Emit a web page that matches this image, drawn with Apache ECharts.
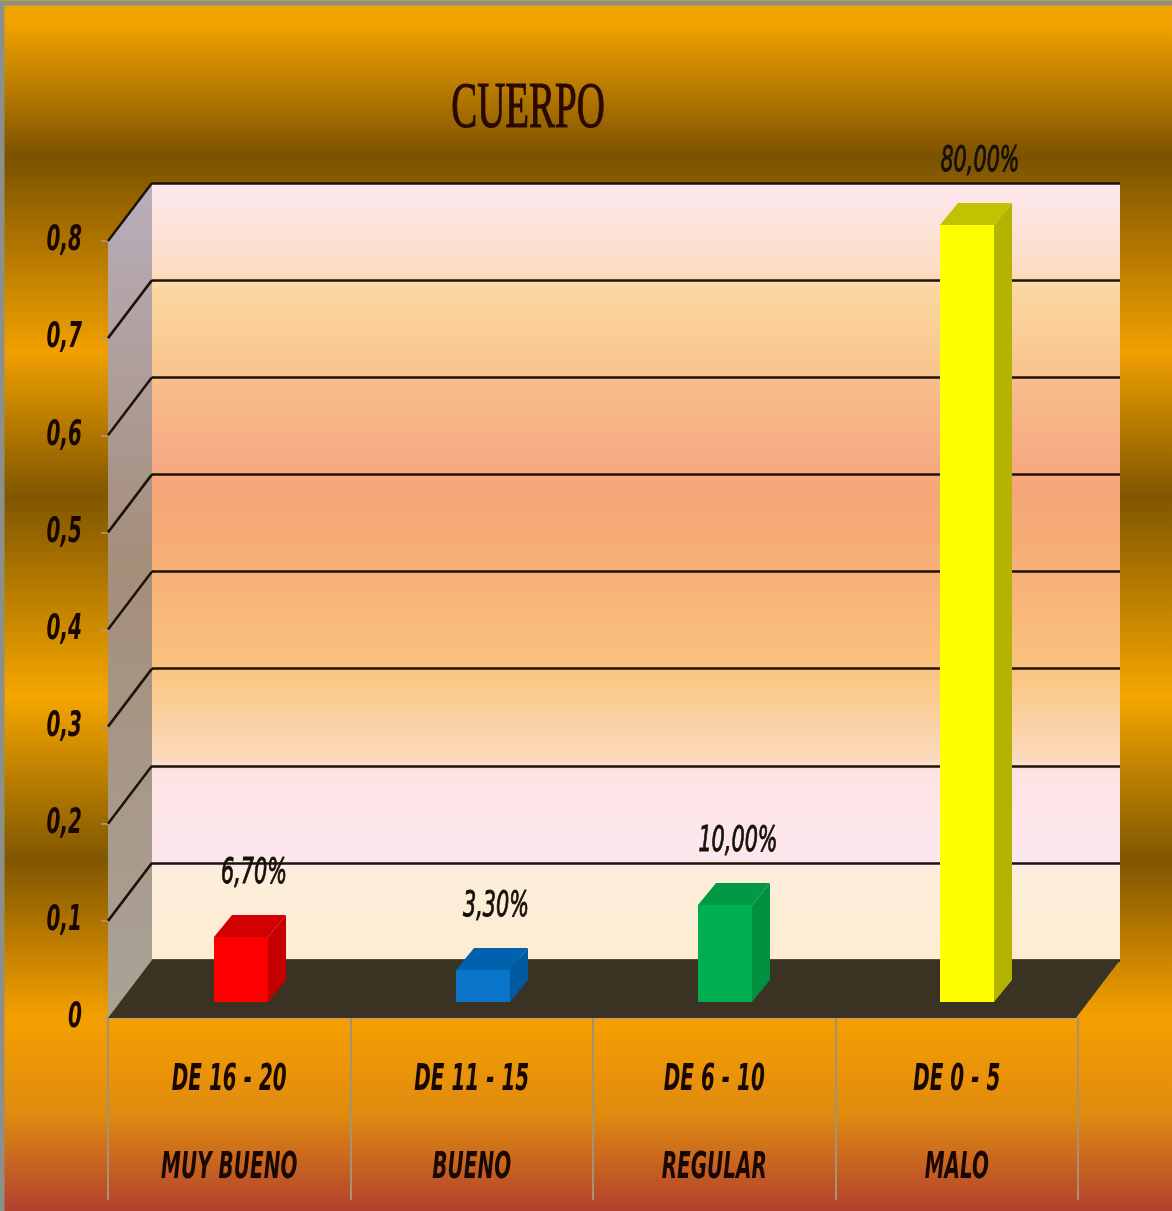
<!DOCTYPE html>
<html>
<head>
<meta charset="utf-8">
<script src="https://cdn.jsdelivr.net/npm/echarts@6/dist/echarts.min.js"></script>
<style>
html, body { margin: 0; padding: 0; }
#chart { width: 1172px; height: 1211px; }
</style>
</head>
<body>
<div id="chart"></div>
<script>
// data
const categories = ['DE 16 - 20', 'DE 11 - 15', 'DE 6 - 10', 'DE 0 - 5'];
const ratings = ['MUY BUENO', 'BUENO', 'REGULAR', 'MALO'];
const values = [0.067, 0.033, 0.1, 0.8];
const yTicks = [0, 0.1, 0.2, 0.3, 0.4, 0.5, 0.6, 0.7, 0.8];

const barColors = [
	{ front: '#ff0000', side: '#c40000', top: '#d20000' },
	{ front: '#0a74c8', side: '#005aa0', top: '#0062ac' },
	{ front: '#00b050', side: '#00903e', top: '#009a44' },
	{ front: '#ffff00', side: '#b4b400', top: '#c2c200' }
];

// fake 3D box (pixels)
const back = { left: 152, top: 183, right: 1120, bottom: 960 };
const depth = { dx: 44, dy: 58 }; // back wall -> front edge
const barShift = { dx: 32, dy: 42 }; // back wall -> bar front face
const barW = 54;
const barD = { dx: 18, dy: 22 };

// Calibri-like look: tall condensed text squeezed horizontally
const cond = '"DejaVu Sans Condensed", "DejaVu Sans", sans-serif';
const ink = '#1a0800';

function fmtTick(v) {
	return v === 0 ? '0' : v.toFixed(1).replace('.', ',');
}
function fmtPct(v) {
	return (v * 100).toFixed(2).replace('.', ',') + '%';
}

function renderBar(params, api) {
	const i = api.value(0);
	const v = api.value(1);
	const top = api.coord([i, v]);
	const base = api.coord([i, 0]);
	const x0 = top[0] - barShift.dx - barW / 2;
	const x1 = x0 + barW;
	const yt = top[1] + barShift.dy;
	const yb = base[1] + barShift.dy;
	const c = barColors[i];
	return {
		type: 'group',
		children: [
			{
				type: 'polygon',
				shape: { points: [[x1, yt], [x1 + barD.dx, yt - barD.dy], [x1 + barD.dx, yb - barD.dy], [x1, yb]] },
				style: { fill: c.side }
			},
			{
				type: 'polygon',
				shape: { points: [[x0, yt], [x0 + barD.dx, yt - barD.dy], [x1 + barD.dx, yt - barD.dy], [x1, yt]] },
				style: { fill: c.top }
			},
			{
				type: 'rect',
				shape: { x: x0, y: yt, width: barW, height: yb - yt },
				style: { fill: c.front }
			},
			{
				type: 'text',
				x: (x0 + x1) / 2 + 13,
				y: yt - barD.dy - 41,
				scaleX: 0.66,
				style: {
					text: fmtPct(v),
					font: 'italic 35px ' + cond,
					fill: '#161008',
					stroke: '#161008',
					lineWidth: 0.9,
					align: 'center',
					verticalAlign: 'middle'
				}
			}
		]
	};
}

function renderSideLine(params, api) {
	const p = api.coord([0, api.value(1)]);
	const x = params.coordSys.x;
	return {
		type: 'line',
		shape: { x1: x, y1: p[1], x2: x - depth.dx, y2: p[1] + depth.dy },
		style: { stroke: '#1c1208', lineWidth: 2.5 }
	};
}

function renderCatLabel(params, api) {
	const i = api.value(0);
	const p = api.coord([i, 0]);
	const txt = (s, dy) => ({
		type: 'text',
		x: p[0],
		y: p[1] + dy,
		scaleX: 0.6,
		style: {
			text: s,
			font: 'italic bold 37px ' + cond,
			fill: ink,
			align: 'center',
			verticalAlign: 'middle'
		}
	});
	return { type: 'group', children: [txt(categories[i], 62), txt(ratings[i], 150)] };
}

function renderTickLabel(params, api) {
	const v = api.value(1);
	const p = api.coord([0, v]);
	return {
		type: 'text',
		x: params.coordSys.x - 26,
		y: p[1],
		scaleX: 0.62,
		style: {
			text: fmtTick(v),
			font: 'italic bold 36px ' + cond,
			fill: ink,
			align: 'right',
			verticalAlign: 'middle'
		}
	};
}

const chart = echarts.init(document.getElementById('chart'));

chart.setOption({
	animation: false,
	backgroundColor: {
		type: 'linear', x: 0, y: 0, x2: 0, y2: 1,
		colorStops: [
			{ offset: 0, color: '#f4a400' },
			{ offset: 0.02, color: '#f2a200' },
			{ offset: 0.13, color: '#7b5200' },
			{ offset: 0.29, color: '#f0a000' },
			{ offset: 0.41, color: '#805600' },
			{ offset: 0.575, color: '#f5a600' },
			{ offset: 0.71, color: '#805600' },
			{ offset: 0.84, color: '#f5a000' },
			{ offset: 0.92, color: '#e08a10' },
			{ offset: 1, color: '#b04030' }
		]
	},
	graphic: [
		{
			type: 'polygon',
			z: 1,
			shape: {
				points: [
					[back.left - depth.dx, back.bottom + depth.dy],
					[back.left - depth.dx, back.top + depth.dy],
					[back.left, back.top],
					[back.left, back.bottom]
				]
			},
			style: {
				fill: {
					type: 'linear', x: 0, y: 0, x2: 0, y2: 1,
					colorStops: [
						{ offset: 0, color: '#b8aebc' },
						{ offset: 0.45, color: '#a58e7a' },
						{ offset: 1, color: '#aaa298' }
					]
				}
			}
		},
		{
			type: 'polygon',
			z: 1,
			shape: {
				points: [
					[back.left - depth.dx, back.bottom + depth.dy],
					[back.left, back.bottom],
					[back.right, back.bottom],
					[back.right - depth.dx, back.bottom + depth.dy]
				]
			},
			style: { fill: '#3a3222' }
		},
		{
			type: 'text',
			z: 5,
			x: 528,
			y: 110,
			scaleX: 0.59,
			style: {
				text: 'CUERPO',
				font: '66px "Liberation Serif", "DejaVu Serif", serif',
				fill: '#2a0a00',
				stroke: '#2a0a00',
				lineWidth: 1.2,
				textAlign: 'center',
				textVerticalAlign: 'middle'
			}
		},
		{
			type: 'polyline',
			z: 10,
			shape: { points: [[2, 1211], [2, 3], [1172, 3]] },
			style: { stroke: '#8c9088', lineWidth: 5 }
		}
	],
	grid: [
		{
			left: back.left, top: back.top,
			width: back.right - back.left, height: back.bottom - back.top,
			show: true,
			borderWidth: 0,
			backgroundColor: {
				type: 'linear', x: 0, y: 0, x2: 0, y2: 1,
				colorStops: [
					{ offset: 0, color: '#fde9f0' },
					{ offset: 0.11, color: '#fcdcc4' },
					{ offset: 0.14, color: '#fbd6a0' },
					{ offset: 0.24, color: '#f9c58e' },
					{ offset: 0.26, color: '#f8bc8c' },
					{ offset: 0.37, color: '#f6a880' },
					{ offset: 0.40, color: '#f6a676' },
					{ offset: 0.50, color: '#f7b078' },
					{ offset: 0.62, color: '#fac27c' },
					{ offset: 0.64, color: '#fac886' },
					{ offset: 0.74, color: '#fbd9bc' },
					{ offset: 0.76, color: '#fde4e4' },
					{ offset: 0.87, color: '#fde7ef' },
					{ offset: 0.89, color: '#fdeedc' },
					{ offset: 1, color: '#fdecd0' }
				]
			}
		},
		{
			left: back.left - depth.dx, top: back.top + depth.dy,
			width: back.right - back.left + 2, height: back.bottom - back.top
		}
	],
	xAxis: [
		{
			type: 'category', gridIndex: 0, data: categories,
			axisLine: { show: false }, axisTick: { show: false }, axisLabel: { show: false }
		},
		{
			type: 'category', gridIndex: 1, data: categories,
			axisLine: { show: true, lineStyle: { color: '#b8a080', width: 2 } },
			axisTick: { show: true, length: 182, lineStyle: { color: '#a89070', width: 2 } },
			axisLabel: { show: false }
		}
	],
	yAxis: [
		{
			type: 'value', gridIndex: 0, min: 0, max: 0.8, interval: 0.1,
			axisLine: { show: false }, axisTick: { show: false }, axisLabel: { show: false },
			splitLine: { show: true, lineStyle: { color: '#1c1208', width: 2.5 } }
		},
		{
			type: 'value', gridIndex: 1, min: 0, max: 0.8, interval: 0.1,
			axisLine: { show: false },
			axisTick: { show: true, length: 7, lineStyle: { color: '#b09890', width: 1.5 } },
			splitLine: { show: false },
			axisLabel: { show: false }
		}
	],
	series: [
		{
			type: 'custom',
			xAxisIndex: 0, yAxisIndex: 0,
			z: 2,
			silent: true,
			renderItem: renderSideLine,
			data: yTicks.slice(1).map(v => [0, v])
		},
		{
			type: 'custom',
			xAxisIndex: 0, yAxisIndex: 0,
			z: 3,
			renderItem: renderBar,
			encode: { x: 0, y: 1 },
			data: values.map((v, i) => [i, v])
		},
		{
			type: 'custom',
			xAxisIndex: 1, yAxisIndex: 1,
			z: 4,
			silent: true,
			renderItem: renderCatLabel,
			data: categories.map((c, i) => [i, 0])
		},
		{
			type: 'custom',
			xAxisIndex: 1, yAxisIndex: 1,
			z: 4,
			silent: true,
			renderItem: renderTickLabel,
			data: yTicks.map(v => [0, v])
		}
	]
});
</script>
</body>
</html>
